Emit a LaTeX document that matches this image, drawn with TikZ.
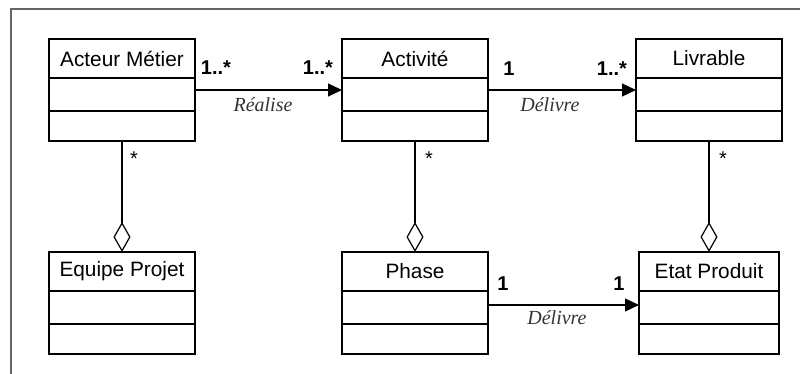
\documentclass[tikz,border=0pt]{standalone}
\usepackage{fontspec}
\setmainfont{Liberation Sans}
\newfontfamily\labelfont{Liberation Serif}
\usetikzlibrary{arrows.meta,positioning}

\begin{document}
\begin{tikzpicture}[x=0.5pt,y=-0.5pt,
    classhead/.style={draw, line width=0.6pt, outer sep=0pt, inner sep=0pt,
        minimum width=73pt, minimum height=19.5pt, font=\fontsize{10.4}{12}\selectfont},
    classattr/.style={draw, line width=0.6pt, outer sep=0pt, inner sep=0pt,
        minimum width=73pt, minimum height=16.5pt},
    classops/.style={draw, line width=0.6pt, outer sep=0pt, inner sep=0pt,
        minimum width=73pt, minimum height=15pt},
    mult/.style={inner sep=0pt, font=\bfseries\fontsize{10}{11}\selectfont},
    star/.style={inner sep=0pt, font=\fontsize{10}{11}\selectfont},
    assoclabel/.style={inner sep=0pt, text=black!80,
        font=\labelfont\itshape\fontsize{10}{12}\selectfont},
    assoc/.style={line width=0.6pt, -{Triangle[length=7pt,width=6.5pt]}},
    aggr/.style={line width=0.6pt, {Diamond[open,length=15pt,width=8.5pt]}-},
    frame/.style={line width=1pt, black!60},
]
    \useasboundingbox (0,0) rectangle (800,374);

    % Frame
    \draw[frame] (11,374) -- (11,9) -- (800,9);

    % Top row of classes
    \node[classhead] (acteur) at (122,58.5) {Acteur Métier};
    \node[classattr, below=0pt of acteur] (acteur-a) {};
    \node[classops, below=0pt of acteur-a] (acteur-o) {};

    \node[classhead] (activite) at (415,58.5) {Activité};
    \node[classattr, below=0pt of activite] (activite-a) {};
    \node[classops, below=0pt of activite-a] (activite-o) {};

    \node[classhead] (livrable) at (709,58.5) {Livrable};
    \node[classattr, below=0pt of livrable] (livrable-a) {};
    \node[classops, below=0pt of livrable-a] (livrable-o) {};

    % Bottom row of classes
    \node[classhead] (equipe) at (122,271.5) {Equipe Projet};
    \node[classattr, below=0pt of equipe] (equipe-a) {};
    \node[classops, below=0pt of equipe-a] (equipe-o) {};

    \node[classhead] (phase) at (415,271.5) {Phase};
    \node[classattr, below=0pt of phase] (phase-a) {};
    \node[classops, below=0pt of phase-a] (phase-o) {};

    \node[classhead, minimum width=70pt] (etat) at (709,271.5) {Etat Produit};
    \node[classattr, minimum width=70pt, below=0pt of etat] (etat-a) {};
    \node[classops, minimum width=70pt, below=0pt of etat-a] (etat-o) {};

    % Associations
    \draw[assoc] ([yshift=2.25pt]acteur-a.east) -- ([yshift=2.25pt]activite-a.west);
    \draw[assoc] ([yshift=2.25pt]activite-a.east) -- ([yshift=2.25pt]livrable-a.west);
    \draw[assoc] ([yshift=1.25pt]phase-a.east) -- ([yshift=1.25pt]etat-a.west);

    \node[assoclabel] (realise) at (263,105) {Réalise};
    \node[assoclabel] (delivre1) at (550,105) {Délivre};
    \node[assoclabel] (delivre2) at (557,318) {Délivre};

    % Multiplicities
    \node[mult] (m-acteur) at (216,68) {1..*};
    \node[mult] (m-activite) at (318,68) {1..*};
    \node[mult] (m-activite2) at (509,69) {1};
    \node[mult] (m-livrable) at (612,69) {1..*};
    \node[mult] (m-phase) at (503,284) {1};
    \node[mult] (m-etat) at (619,284) {1};

    % Aggregations
    \draw[aggr] (equipe.north) -- (acteur-o.south);
    \draw[aggr] (phase.north) -- (activite-o.south);
    \draw[aggr] (etat.north) -- (livrable-o.south);

    \node[star] (s-acteur) at (134,159) {*};
    \node[star] (s-activite) at (429,159) {*};
    \node[star] (s-livrable) at (723,159) {*};
\end{tikzpicture}
\end{document}
